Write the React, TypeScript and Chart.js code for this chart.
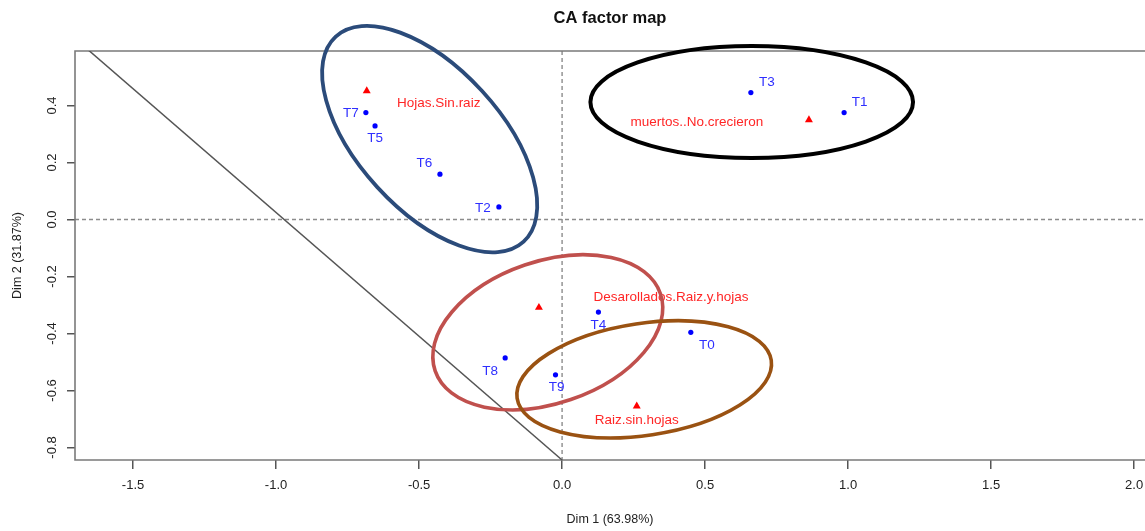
import React, { useEffect, useRef } from "react";
import { Chart, registerables } from "chart.js";

Chart.register(...registerables);

// ---------- data ----------
const rowNames = ["T0", "T1", "T2", "T3", "T4", "T5", "T6", "T7", "T8", "T9"];
const rowDim1 = [0.45, 0.986, -0.221, 0.66, 0.127, -0.654, -0.427, -0.686, -0.199, -0.023];
const rowDim2 = [-0.396, 0.375, 0.044, 0.445, -0.325, 0.328, 0.159, 0.375, -0.486, -0.545];

const colNames = ["Hojas.Sin.raiz", "muertos..No.crecieron", "Desarollados.Raiz.y.hojas", "Raiz.sin.hojas"];
const colDim1 = [-0.683, 0.863, -0.081, 0.261];
const colDim2 = [0.451, 0.349, -0.309, -0.655];

const xTickValues = [-1.5, -1.0, -0.5, 0.0, 0.5, 1.0, 1.5, 2.0];
const xTickLabels = ["-1.5", "-1.0", "-0.5", "0.0", "0.5", "1.0", "1.5", "2.0"];
const yTickValues = [-0.8, -0.6, -0.4, -0.2, 0.0, 0.2, 0.4];
const yTickLabels = ["-0.8", "-0.6", "-0.4", "-0.2", "0.0", "0.2", "0.4"];

const xRange = [-1.703, 2.038];
const yRange = [-0.844, 0.591];

const titleText = "CA factor map";
const xTitle = "Dim 1 (63.98%)";
const yTitle = "Dim 2 (31.87%)";

// hand-drawn diagonal guide line (data units)
const guideX = [-1.657, 0.0];
const guideY = [0.595, -0.844];

// hand-drawn group ellipses (data units)
const ellipseCx = [-0.463, 0.663, -0.05, 0.287];
const ellipseCy = [0.282, 0.412, -0.396, -0.561];
const ellipseA = [0.487, 0.565, 0.417, 0.45];
const ellipseB = [0.249, 0.196, 0.249, 0.196];
const ellipseAngleDeg = [47.5, 0, -18.9, -8.5];

// ---------- styles ----------
const ellipseColors = ["#2b4b7a", "#000000", "#c0504d", "#9a5212"];
const ellipseWidths = [3.8, 4, 3.6, 3.6];
const rowLabelDx = [16, 15.5, -16, 16, 0, 0, -15.5, -15, -15, 1];
const rowLabelDy = [13, -10, 1, -10, 13, 12, -11, 1, 13, 13];
const colLabelDx = [72, -112, 132, 0];
const colLabelDy = [12, 2, -10, 14];
const FONT = "'Liberation Sans', Arial, Helvetica, sans-serif";
const BLUE = "#2f2fff";
const RED = "#ff2626";

const caPlugin = {
  id: "caPlugin",
  beforeDatasetsDraw(chart: any) {
    const { ctx, chartArea: a, scales } = chart;
    const xs = scales.x, ys = scales.y;
    const W = chart.width;
    ctx.save();
    ctx.beginPath();
    ctx.rect(a.left, a.top, W - a.left, a.bottom - a.top);
    ctx.clip();
    ctx.setLineDash([4, 3]);
    ctx.strokeStyle = "#8c8c8c";
    ctx.lineWidth = 1.4;
    const x0 = xs.getPixelForValue(0);
    const y0 = ys.getPixelForValue(0);
    ctx.beginPath();
    ctx.moveTo(a.left, y0);
    ctx.lineTo(W, y0);
    ctx.moveTo(x0, a.top);
    ctx.lineTo(x0, a.bottom);
    ctx.stroke();
    ctx.restore();

    // plot box (right side is outside the visible area)
    ctx.save();
    ctx.strokeStyle = "#7a7a7a";
    ctx.lineWidth = 1.6;
    ctx.beginPath();
    ctx.moveTo(W + 2, a.top);
    ctx.lineTo(a.left, a.top);
    ctx.lineTo(a.left, a.bottom);
    ctx.lineTo(W + 2, a.bottom);
    ctx.stroke();
    ctx.restore();
  },
  afterDatasetsDraw(chart: any) {
    const { ctx, scales } = chart;
    const xs = scales.x, ys = scales.y;
    ctx.save();
    ctx.font = `13.5px ${FONT}`;
    ctx.textAlign = "center";
    ctx.textBaseline = "middle";
    ctx.fillStyle = BLUE;
    rowNames.forEach((n, i) => {
      ctx.fillText(n, xs.getPixelForValue(rowDim1[i]) + rowLabelDx[i], ys.getPixelForValue(rowDim2[i]) + rowLabelDy[i]);
    });
    ctx.fillStyle = RED;
    colNames.forEach((n, i) => {
      ctx.fillText(n, xs.getPixelForValue(colDim1[i]) + colLabelDx[i], ys.getPixelForValue(colDim2[i]) + colLabelDy[i]);
    });
    ctx.restore();
  },
  afterDraw(chart: any) {
    const { ctx, chartArea: a, scales } = chart;
    const xs = scales.x, ys = scales.y;
    const pxX = xs.getPixelForValue(1) - xs.getPixelForValue(0);
    const pxY = ys.getPixelForValue(0) - ys.getPixelForValue(1);
    const pxU = (pxX + pxY) / 2;
    ctx.save();
    ellipseCx.forEach((cx, i) => {
      ctx.beginPath();
      ctx.ellipse(
        xs.getPixelForValue(cx),
        ys.getPixelForValue(ellipseCy[i]),
        ellipseA[i] * pxU,
        ellipseB[i] * pxU,
        (ellipseAngleDeg[i] * Math.PI) / 180,
        0,
        Math.PI * 2
      );
      ctx.strokeStyle = ellipseColors[i];
      ctx.lineWidth = ellipseWidths[i];
      ctx.stroke();
    });
    ctx.restore();

    // y tick labels, rotated like R (las = 0)
    ctx.save();
    ctx.font = `13px ${FONT}`;
    ctx.fillStyle = "#222";
    ctx.textAlign = "center";
    ctx.textBaseline = "middle";
    yTickValues.forEach((v, i) => {
      ctx.save();
      ctx.translate(a.left - 23, ys.getPixelForValue(v));
      ctx.rotate(-Math.PI / 2);
      ctx.fillText(yTickLabels[i], 0, 0);
      ctx.restore();
    });
    ctx.restore();

    // main title, centred over the full plot region
    ctx.save();
    ctx.font = `bold 16.5px ${FONT}`;
    ctx.fillStyle = "#111";
    ctx.textAlign = "center";
    ctx.textBaseline = "middle";
    ctx.fillText(titleText, (a.left + chart.width) / 2, 18);
    ctx.restore();
  },
};

export default function App() {
  const ref = useRef<HTMLCanvasElement | null>(null);
  useEffect(() => {
    document.body.style.margin = "0";
    if (!ref.current) return;
    Chart.defaults.font.family = FONT;
    const chart = new Chart(ref.current, {
      type: "scatter",
      data: {
        datasets: [
          {
            type: "line",
            label: "guide",
            data: guideX.map((x, i) => ({ x, y: guideY[i] })),
            borderColor: "#555555",
            borderWidth: 1.5,
            pointRadius: 0,
            showLine: true,
            fill: false,
          } as any,
          {
            label: "rows",
            data: rowDim1.map((x, i) => ({ x, y: rowDim2[i] })),
            pointStyle: "circle",
            pointRadius: 2.6,
            backgroundColor: "#0000ff",
            borderColor: "#0000ff",
            borderWidth: 0,
          },
          {
            label: "columns",
            data: colDim1.map((x, i) => ({ x, y: colDim2[i] })),
            pointStyle: "triangle",
            pointRadius: 4.6,
            backgroundColor: "#ff0000",
            borderColor: "#ff0000",
            borderWidth: 0,
          },
        ],
      },
      options: {
        animation: false,
        responsive: false,
        maintainAspectRatio: false,
        layout: { autoPadding: false, padding: { top: 51, left: 0, right: 0, bottom: 0 } },
        plugins: { legend: { display: false }, tooltip: { enabled: false }, title: { display: false } },
        scales: {
          x: {
            type: "linear",
            min: xRange[0],
            max: xRange[1],
            afterBuildTicks: (s: any) => {
              s.ticks = xTickValues.map((v) => ({ value: v }));
            },
            afterFit: (s: any) => {
              s.height = 71;
              s.paddingLeft = 0;
              s.paddingRight = 0;
            },
            border: { display: false },
            grid: { drawOnChartArea: false, drawTicks: true, tickLength: 9, color: "#555", lineWidth: 1.5 },
            ticks: {
              autoSkip: false,
              maxRotation: 0,
              minRotation: 0,
              padding: 9,
              color: "#222",
              font: { size: 13, family: FONT },
              callback: (v: any) => {
                const i = xTickValues.findIndex((t) => Math.abs(t - v) < 1e-9);
                return i >= 0 ? xTickLabels[i] : "";
              },
            },
            title: { display: true, text: xTitle, color: "#222", font: { size: 12.5, family: FONT }, padding: { top: 0, bottom: 4 } },
          },
          y: {
            type: "linear",
            min: yRange[0],
            max: yRange[1],
            afterBuildTicks: (s: any) => {
              s.ticks = yTickValues.map((v) => ({ value: v }));
            },
            afterFit: (s: any) => {
              s.width = 75;
              s.paddingTop = 0;
              s.paddingBottom = 0;
            },
            border: { display: false },
            grid: { drawOnChartArea: false, drawTicks: true, tickLength: 8, color: "#555", lineWidth: 1.5 },
            ticks: { display: false },
            title: { display: true, text: yTitle, color: "#222", font: { size: 12.5, family: FONT }, padding: { top: 10, bottom: 0 } },
          },
        },
      },
      plugins: [caPlugin],
    });
    return () => chart.destroy();
  }, []);
  return (
    <canvas ref={ref} width={1145} height={531} style={{ display: "block", width: 1145, height: 531 }} />
  );
}
